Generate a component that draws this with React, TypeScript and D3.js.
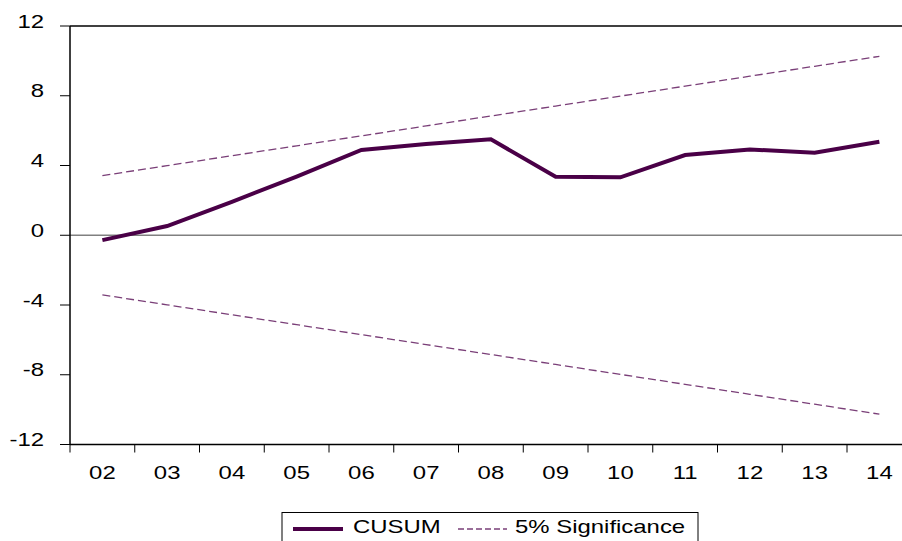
import React from "react";
import * as d3 from "d3";

const categories = ["02", "03", "04", "05", "06", "07", "08", "09", "10", "11", "12", "13", "14"];
const cusum = [-0.28, 0.53, 1.92, 3.36, 4.89, 5.23, 5.5, 3.35, 3.32, 4.6, 4.92, 4.73, 5.36];
const upper = [3.42, 3.99, 4.56, 5.13, 5.7, 6.27, 6.84, 7.41, 7.98, 8.55, 9.12, 9.69, 10.26];
const lower = [-3.42, -3.99, -4.56, -5.13, -5.7, -6.27, -6.84, -7.41, -7.98, -8.55, -9.12, -9.69, -10.26];
const yTicks = [12, 8, 4, 0, -4, -8, -12];
const legendLabels = ["CUSUM", "5% Significance"];

const W = 902;
const H = 541;
const left = 70;
const top = 26;
const bottom = 444.5;
const bandW = 64.75;
const FONT = "'Liberation Sans', Arial, sans-serif";
const FS = 18;
const SX = 1.33;
const CUSUM_COLOR = "#4a0047";
const BAND_COLOR = "#7a3f78";

function StretchText({ x, y, anchor, children }: { x: number; y: number; anchor: string; children: React.ReactNode }) {
  return (
    <g transform={`translate(${x},${y}) scale(${SX},1)`}>
      <text x={0} y={0} textAnchor={anchor} fontFamily={FONT} fontSize={FS} fill="#000">
        {children}
      </text>
    </g>
  );
}

export default function App() {
  const x = d3.scaleBand<string>().domain(categories).range([left, left + bandW * categories.length]).padding(0);
  const y = d3.scaleLinear().domain([-12, 12]).range([bottom, top]);
  const cx = (c: string) => (x(c) as number) + x.bandwidth() / 2;
  const line = d3
    .line<number>()
    .x((_, i) => cx(categories[i]))
    .y((d) => y(d));
  const right = left + bandW * categories.length;
  const boundaries = d3.range(categories.length + 1).map((i) => left + i * x.bandwidth());

  return (
    <svg width={W} height={H} style={{ position: "absolute", left: 0, top: 0, background: "#fff" }}>
      <rect x={0} y={0} width={W} height={H} fill="#fff" />
      {/* zero line */}
      <line x1={left} x2={right} y1={y(0)} y2={y(0)} stroke="#808080" strokeWidth={1.3} />
      {/* bands */}
      <path d={line(upper) || ""} fill="none" stroke={BAND_COLOR} strokeWidth={1.3} strokeDasharray="8,4" />
      <path d={line(lower) || ""} fill="none" stroke={BAND_COLOR} strokeWidth={1.3} strokeDasharray="8,4" />
      {/* cusum */}
      <path d={line(cusum) || ""} fill="none" stroke={CUSUM_COLOR} strokeWidth={4} strokeLinejoin="miter" />
      {/* frame */}
      <line x1={left} x2={right} y1={top} y2={top} stroke="#000" strokeWidth={1.5} />
      <line x1={left} x2={right} y1={bottom} y2={bottom} stroke="#000" strokeWidth={1.5} />
      <line x1={left} x2={left} y1={top} y2={bottom} stroke="#000" strokeWidth={1.5} />
      <line x1={right} x2={right} y1={top} y2={bottom} stroke="#000" strokeWidth={1.5} />
      {/* y ticks */}
      {yTicks.map((t) => (
        <g key={t}>
          <line x1={left - 10} x2={left} y1={y(t)} y2={y(t)} stroke="#000" strokeWidth={1} />
          <StretchText x={44} y={y(t) + 1.5} anchor="end">
            {t}
          </StretchText>
        </g>
      ))}
      {/* x ticks */}
      {boundaries.map((b, i) => (
        <line key={i} x1={b} x2={b} y1={bottom} y2={bottom + 8} stroke="#000" strokeWidth={1} />
      ))}
      {categories.map((c) => (
        <StretchText key={c} x={cx(c)} y={479} anchor="middle">
          {c}
        </StretchText>
      ))}
      {/* legend */}
      <rect x={282} y={512.5} width={416} height={50} fill="#fff" stroke="#000" strokeWidth={1} />
      <line x1={293} x2={343} y1={529} y2={529} stroke={CUSUM_COLOR} strokeWidth={4} />
      <StretchText x={353} y={533} anchor="start">
        {legendLabels[0]}
      </StretchText>
      <line x1={458} x2={507} y1={529} y2={529} stroke={BAND_COLOR} strokeWidth={1.3} strokeDasharray="6,3" />
      <StretchText x={515} y={533} anchor="start">
        {legendLabels[1]}
      </StretchText>
    </svg>
  );
}
